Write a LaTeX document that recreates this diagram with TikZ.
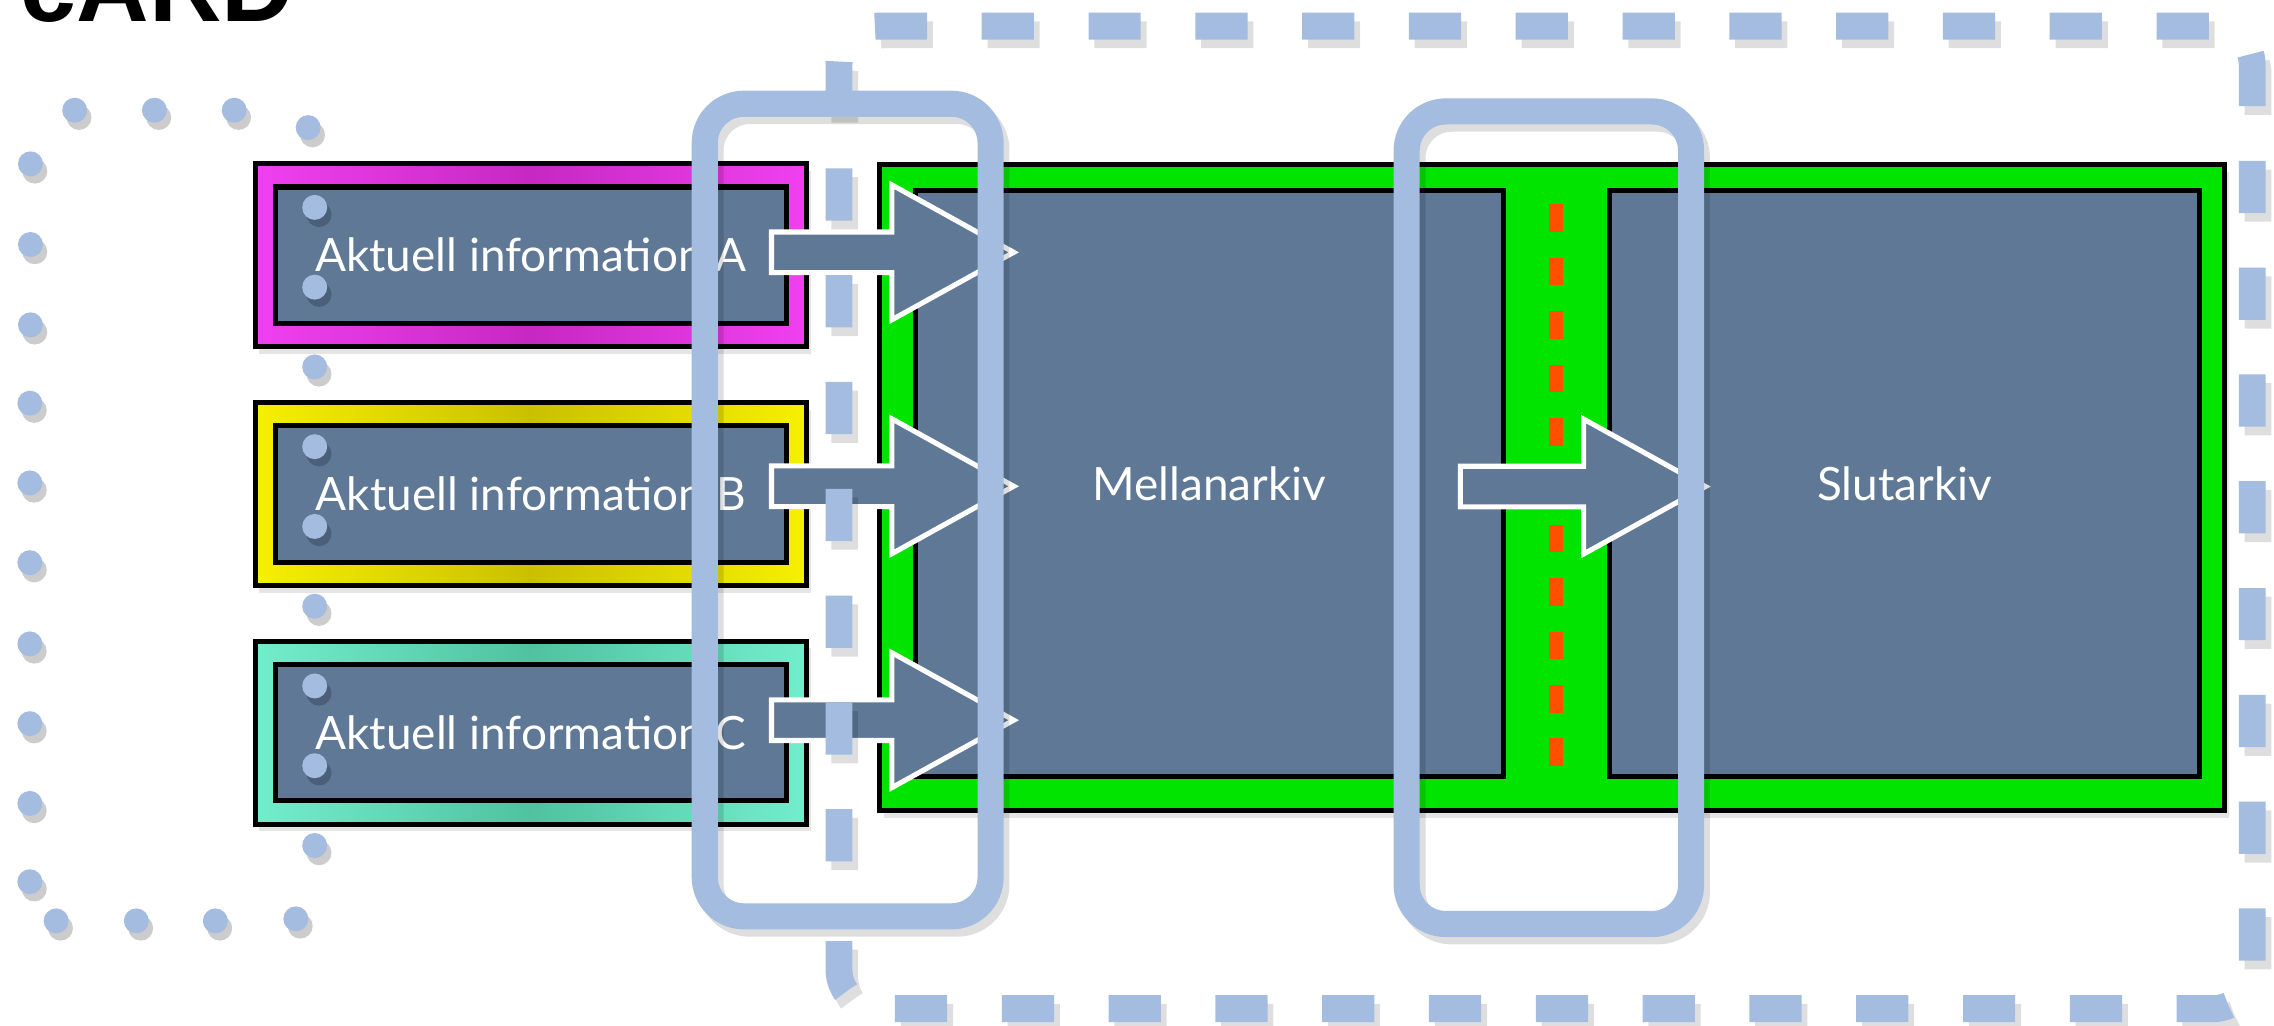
\documentclass[tikz,border=0pt]{standalone}
\usepackage{fontspec}
\setmainfont{Lato}
\newfontfamily\headfont{Liberation Sans}
\usetikzlibrary{shadows,calc,positioning}
\definecolor{slate}{RGB}{94,120,150}
\definecolor{lineblue}{RGB}{163,188,223}
\definecolor{archgreen}{RGB}{0,228,0}
\definecolor{magA}{RGB}{240,64,240}
\definecolor{magAd}{RGB}{198,40,194}
\definecolor{yelB}{RGB}{246,240,0}
\definecolor{yelBd}{RGB}{202,192,0}
\definecolor{tealC}{RGB}{114,238,204}
\definecolor{tealCd}{RGB}{80,194,160}
\definecolor{roadred}{RGB}{255,80,0}
\tikzset{
  frame/.style={rectangle, draw=black, line width=0.035cm, inner sep=0pt},
  infobox/.style={frame, minimum width=3.8cm, minimum height=1.26cm,
              drop shadow={shadow xshift=0.03cm, shadow yshift=-0.05cm, opacity=0.2}},
  slatebox/.style={frame, fill=slate, text=white, font=\fontsize{9}{11}\selectfont},
  infotext/.style={slatebox, minimum width=3.52cm, minimum height=0.94cm},
  archive/.style={slatebox, minimum width=4.05cm, minimum height=4.04cm},
  phasebox/.style={rectangle, draw=lineblue, line width=0.18cm, rounded corners=0.27cm,
              minimum width=1.97cm, minimum height=5.6cm, inner sep=0pt,
              preaction={draw=black, opacity=0.13, line width=0.18cm,
                         transform canvas={shift={(0.04cm,-0.05cm)}}}},
  fatarr/.style={draw=white, fill=slate, line width=0.035cm, line join=miter},
  bigdash/.style={draw=lineblue, line width=0.185cm, rounded corners=0.27cm,
              dash pattern=on 0.36cm off 0.376cm, dash phase=0.376cm,
              preaction={draw=black, opacity=0.13, line width=0.185cm,
                         dash pattern=on 0.36cm off 0.376cm, dash phase=0.376cm,
                         transform canvas={shift={(0.04cm,-0.06cm)}}}},
  dotmark/.style={fill=lineblue, draw=none,
              preaction={fill=black, opacity=0.2, transform canvas={shift={(0.03cm,-0.05cm)}}}}
}
\newcommand{\fatarrow}[2]{%
  \draw[fatarr] let \p1=(#1), \p2=(#2) in
    (\x1,\y1+0.14cm) -- (\x2-0.84cm,\y1+0.14cm) -- (\x2-0.84cm,\y1+0.465cm)
    -- (\x2,\y1) -- (\x2-0.84cm,\y1-0.465cm) -- (\x2-0.84cm,\y1-0.14cm)
    -- (\x1,\y1-0.14cm) -- cycle;}

\begin{document}
\begin{tikzpicture}[x=0.01cm, y=-0.01cm, node distance=0.35cm]
  \path[use as bounding box, fill=white] (0,0) rectangle (1568,707);
  \node[anchor=base west, inner sep=0pt, font=\headfont\bfseries\fontsize{19.7}{20}\selectfont] (title) at (13.6,15) {cARD};

  % archive block
  \node[frame, fill=archgreen, minimum width=9.27cm, minimum height=4.455cm,
        drop shadow={shadow xshift=0.03cm, shadow yshift=-0.05cm, opacity=0.2}] (arch) at (1070,336.25) {};
  \node[archive] (mell) at (834,333.5) {Mellanarkiv};
  \node[archive, minimum width=4.065cm] (slut) at (1313.25,333.5) {Slutarkiv};
  \draw[roadred, line width=0.1cm, dash pattern=on 0.19cm off 0.178cm] (1073,141) -- (1073,528);

  % current information
  \node[infobox, left color=magA, right color=magA, middle color=magAd] (infoA) at (366,176) {};
  \node[infobox, below=of infoA, left color=yelB, right color=yelB, middle color=yelBd] (infoB) {};
  \node[infobox, below=of infoB, left color=tealC, right color=tealC, middle color=tealCd] (infoC) {};
  \node[infotext] (infoAin) at (infoA) {Aktuell information A};
  \node[infotext] (infoBin) at (infoB) {Aktuell information B};
  \node[infotext] (infoCin) at (infoC) {Aktuell information C};

  \coordinate (tailA) at (532,174);     \coordinate (tipA) at (699,174);
  \coordinate (tailB) at (532,335.3);   \coordinate (tipB) at (699,335.3);
  \coordinate (tailC) at (532,496.6);   \coordinate (tipC) at (699,496.6);
  \coordinate (tailM) at (1007,335.5);  \coordinate (tipM) at (1176,335.5);
  \fatarrow{tailA}{tipA}
  \fatarrow{tailB}{tipB}
  \fatarrow{tailC}{tipC}
  \fatarrow{tailM}{tipM}

  % outlines
  \draw[bigdash] (578.5,630) -- (578.5,18) -- (1553,18) -- (1553,695.5) -- (578.5,695.5) -- (578.5,630);
  \foreach \x/\y in {51.5/76, 106.5/76, 161.5/76, 212.5/88,
      217/143, 217/198, 217/253, 217/308, 217/363, 217/418, 217/473, 217/528, 217/583,
      204/633.6, 148.5/635, 94/635, 38.7/635,
      20.6/608, 20.6/554, 20.6/499, 20.6/444, 20.6/388, 20.6/333, 20.6/278, 21/224, 21/168.6, 21/113}
    \fill[dotmark] (\x,\y) circle[radius=0.086cm];

  \node[phasebox] (transfer) at (584.5,351.7) {};
  \node[phasebox, minimum width=1.96cm] (handover) at (1068,357) {};
\end{tikzpicture}
\end{document}
